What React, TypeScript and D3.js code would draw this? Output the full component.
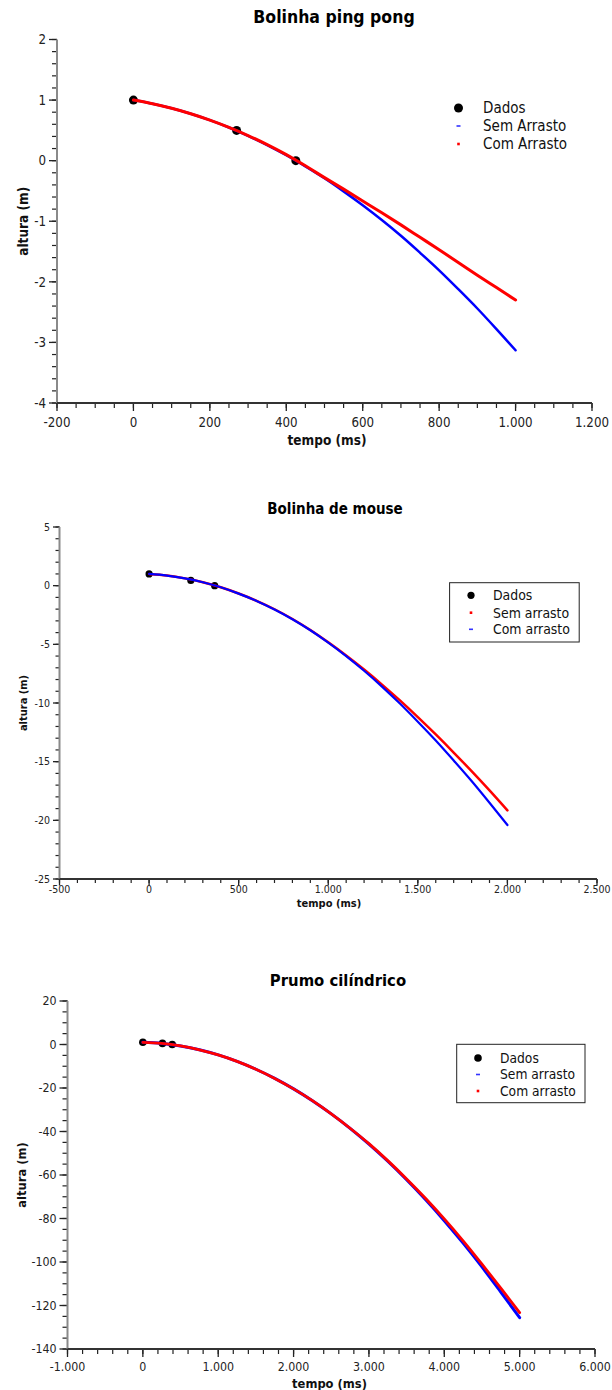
import React from 'react'
import * as d3 from 'd3'

// Bolinha ping pong
const pingDataTime = [0, 270, 425]
const pingDataHeight = [1, 0.5, 0]
const pingCurveTime = [0, 50, 100, 150, 200, 250, 300, 350, 400, 450, 500, 550, 600, 650, 700, 750, 800, 850, 900, 950, 1000]
const pingSemArrasto = [1.0, 0.94, 0.865, 0.774, 0.668, 0.547, 0.41, 0.257, 0.09, -0.094, -0.29, -0.507, -0.736, -0.98, -1.24, -1.52, -1.81, -2.12, -2.44, -2.78, -3.13]
const pingComArrasto = [1.0, 0.94, 0.865, 0.775, 0.67, 0.55, 0.415, 0.265, 0.1, -0.085, -0.28, -0.47, -0.665, -0.86, -1.06, -1.265, -1.47, -1.68, -1.89, -2.095, -2.3]

// Bolinha de mouse
const mouseDataTime = [0, 233, 366]
const mouseDataHeight = [1, 0.45, 0]
const mouseCurveTime = [0, 100, 200, 300, 400, 500, 600, 700, 800, 900, 1000, 1100, 1200, 1300, 1400, 1500, 1600, 1700, 1800, 1900, 2000]
const mouseSemArrasto = [1.0, 0.86, 0.62, 0.29, -0.14, -0.67, -1.29, -2.01, -2.84, -3.78, -4.83, -5.95, -7.15, -8.43, -9.78, -11.2, -12.68, -14.22, -15.81, -17.45, -19.15]
const mouseComArrasto = [1.0, 0.86, 0.62, 0.29, -0.14, -0.68, -1.3, -2.03, -2.86, -3.8, -4.85, -6.0, -7.25, -8.6, -10.05, -11.6, -13.2, -14.9, -16.65, -18.5, -20.4]

// Prumo cilindrico
const prumoDataTime = [0, 260, 390]
const prumoDataHeight = [1, 0.5, 0]
const prumoCurveTime = [0, 250, 500, 750, 1000, 1250, 1500, 1750, 2000, 2250, 2500, 2750, 3000, 3250, 3500, 3750, 4000, 4250, 4500, 4750, 5000]
const prumoSemArrasto = [1.0, 0.47, -0.68, -2.43, -4.8, -7.78, -11.38, -15.58, -20.4, -25.83, -31.88, -38.53, -45.8, -53.68, -62.18, -71.28, -81.0, -91.33, -102.28, -113.83, -125.6]
const prumoComArrasto = [1.0, 0.47, -0.68, -2.43, -4.8, -7.78, -11.38, -15.58, -20.4, -25.83, -31.88, -38.5, -45.6, -53.4, -61.8, -70.7, -80.2, -90.3, -101.0, -112.0, -123.3]

const titles = ['Bolinha ping pong', 'Bolinha de mouse', 'Prumo cilíndrico']
const legendPing = ['Dados', 'Sem Arrasto', 'Com Arrasto']
const legendOthers = ['Dados', 'Sem arrasto', 'Com arrasto']
const xLabel = 'tempo (ms)'
const yLabel = 'altura (m)'

const FONT = "'DejaVu Sans Condensed', 'DejaVu Sans', sans-serif"
const RED = '#ff0000'
const BLUE = '#0000ff'

const fmt = d3.formatLocale({ decimal: ',', thousands: '.', grouping: [3], currency: ['', ''], minus: '-' }).format(',')

const charts = [
  {
    title: titles[0], titleX: 334, titleY: 23, titleSize: 17.5,
    left: 57, right: 592, top: 39.5, bottom: 403,
    xDomain: [-200, 1200], xMajor: 200, xMinor: 50,
    yDomain: [-4, 2], yMajor: 1, yMinor: 0.2,
    tickSize: 13.2, axisSize: 13.5, labelGap: 14, majorLen: 8, minorLen: 5,
    xLabelX: 327, xLabelY: 445, yLabelX: 28,
    dataTime: pingDataTime, dataHeight: pingDataHeight, dotR: 4.5,
    curveTime: pingCurveTime,
    series: [
      { values: pingSemArrasto, color: BLUE, width: 2.5, mark: 'dash' },
      { values: pingComArrasto, color: RED, width: 3, mark: 'square' },
    ],
    legend: { box: null, markX: 458.5, textX: 483, rows: [108, 126, 144], size: 15, labels: legendPing },
  },
  {
    title: titles[1], titleX: 335, titleY: 514, titleSize: 15,
    left: 59.5, right: 597, top: 527, bottom: 879,
    xDomain: [-500, 2500], xMajor: 500, xMinor: 100,
    yDomain: [-25, 5], yMajor: 5, yMinor: 1,
    tickSize: 10.5, axisSize: 11, labelGap: 6.5, majorLen: 6.5, minorLen: 4,
    xLabelX: 329, xLabelY: 907, yLabelX: 27,
    dataTime: mouseDataTime, dataHeight: mouseDataHeight, dotR: 3.6,
    curveTime: mouseCurveTime,
    series: [
      { values: mouseSemArrasto, color: RED, width: 2.5, mark: 'square' },
      { values: mouseComArrasto, color: BLUE, width: 2.2, mark: 'dash' },
    ],
    legend: { box: [449.6, 582.7, 579.2, 642], markX: 471, textX: 493, rows: [595.3, 612.7, 629.3], size: 13.9, labels: legendOthers },
  },
  {
    title: titles[2], titleX: 338, titleY: 986, titleSize: 16.5,
    left: 67.5, right: 595, top: 1001, bottom: 1349,
    xDomain: [-1000, 6000], xMajor: 1000, xMinor: 200,
    yDomain: [-140, 20], yMajor: 20, yMinor: 5,
    tickSize: 12.3, axisSize: 12.8, labelGap: 13.5, majorLen: 8, minorLen: 5,
    xLabelX: 329.5, xLabelY: 1388, yLabelX: 26,
    dataTime: prumoDataTime, dataHeight: prumoDataHeight, dotR: 3.8,
    curveTime: prumoCurveTime,
    series: [
      { values: prumoSemArrasto, color: BLUE, width: 3, mark: 'dash' },
      { values: prumoComArrasto, color: RED, width: 2.8, mark: 'square' },
    ],
    legend: { box: [456.7, 1044.3, 585, 1102.7], markX: 478, textX: 500, rows: [1058, 1074.5, 1091], size: 13.7, labels: legendOthers },
  },
]

const steps = (d: number[], s: number) =>
  d3.range(0, Math.round((d[1] - d[0]) / s) + 1).map((i) => d[0] + i * s)

function Plot({ c }: { c: any }) {
  const x = d3.scaleLinear().domain(c.xDomain).range([c.left, c.right])
  const y = d3.scaleLinear().domain(c.yDomain).range([c.bottom, c.top])
  const xMajor = steps(c.xDomain, c.xMajor)
  const yMajor = steps(c.yDomain, c.yMajor)
  const xMinor = steps(c.xDomain, c.xMinor)
  const yMinor = steps(c.yDomain, c.yMinor)
  const line = d3
    .line<number>()
    .x((d, i) => x(c.curveTime[i]))
    .y((d) => y(d))
    .curve(d3.curveMonotoneX)
  const lg = c.legend
  const midY = (c.top + c.bottom) / 2

  return (
    <g fontFamily={FONT} style={{ fontStretch: 'condensed' }}>
      <text x={c.titleX} y={c.titleY} textAnchor="middle" fontWeight="bold" fontSize={c.titleSize} fill="#000">
        {c.title}
      </text>

      {/* y axis */}
      {yMinor.map((v, i) => (
        <line key={'ym' + i} x1={c.left - c.minorLen} x2={c.left} y1={y(v)} y2={y(v)} stroke="#222" strokeWidth={1.2} />
      ))}
      {yMajor.map((v, i) => (
        <g key={'yM' + i}>
          <line x1={c.left - c.majorLen} x2={c.left} y1={y(v)} y2={y(v)} stroke="#222" strokeWidth={1.3} />
          <text x={c.left - c.majorLen - 3} y={y(v)} dy="0.36em" textAnchor="end" fontSize={c.tickSize} fill="#222">
            {fmt(v)}
          </text>
        </g>
      ))}
      <line x1={c.left} x2={c.left} y1={c.top} y2={c.bottom} stroke="#8a8a8a" strokeWidth={2} />

      {/* x axis */}
      {xMinor.map((v, i) => (
        <line key={'xm' + i} x1={x(v)} x2={x(v)} y1={c.bottom} y2={c.bottom + c.minorLen} stroke="#222" strokeWidth={1.2} />
      ))}
      {xMajor.map((v, i) => (
        <g key={'xM' + i}>
          <line x1={x(v)} x2={x(v)} y1={c.bottom} y2={c.bottom + c.majorLen} stroke="#222" strokeWidth={1.3} />
          <text x={x(v)} y={c.bottom + c.labelGap} dy="0.72em" textAnchor="middle" fontSize={c.tickSize} fill="#222">
            {fmt(v)}
          </text>
        </g>
      ))}
      <line x1={c.left} x2={c.right} y1={c.bottom} y2={c.bottom} stroke="#333" strokeWidth={1.8} />

      <text x={c.xLabelX} y={c.xLabelY} textAnchor="middle" fontWeight="bold" fontSize={c.axisSize} fill="#111">
        {xLabel}
      </text>
      <text
        transform={`translate(${c.yLabelX},${midY}) rotate(-90)`}
        textAnchor="middle"
        fontWeight="bold"
        fontSize={c.axisSize}
        fill="#111"
      >
        {yLabel}
      </text>

      {/* data */}
      {c.dataTime.map((t: number, i: number) => (
        <circle key={'d' + i} cx={x(t)} cy={y(c.dataHeight[i])} r={c.dotR} fill="#000" />
      ))}
      {c.series.map((s: any, i: number) => (
        <path key={'s' + i} d={line(s.values) || ''} fill="none" stroke={s.color} strokeWidth={s.width} strokeLinecap="round" />
      ))}

      {/* legend */}
      {lg.box && (
        <rect
          x={lg.box[0]}
          y={lg.box[1]}
          width={lg.box[2] - lg.box[0]}
          height={lg.box[3] - lg.box[1]}
          fill="#fff"
          stroke="#222"
          strokeWidth={1}
        />
      )}
      <circle cx={lg.markX} cy={lg.rows[0]} r={c.dotR} fill="#000" />
      {c.series.map((s: any, i: number) =>
        s.mark === 'dash' ? (
          <rect key={'lm' + i} x={lg.markX - 2} y={lg.rows[i + 1] - 0.8} width={4} height={1.6} fill={s.color} opacity={0.8} />
        ) : (
          <rect key={'lm' + i} x={lg.markX - 1.3} y={lg.rows[i + 1] - 1.3} width={2.6} height={2.6} fill={s.color} />
        )
      )}
      {lg.labels.map((l: string, i: number) => (
        <text key={'lt' + i} x={lg.textX} y={lg.rows[i]} dy="0.36em" fontSize={lg.size} fill="#111">
          {l}
        </text>
      ))}
    </g>
  )
}

export default function App() {
  return (
    <svg
      width={612}
      height={1390}
      viewBox="0 0 612 1390"
      style={{ position: 'absolute', left: 0, top: 0, background: '#fff' }}
    >
      <rect x={0} y={0} width={612} height={1390} fill="#fff" />
      {charts.map((c, i) => (
        <Plot key={i} c={c} />
      ))}
    </svg>
  )
}
